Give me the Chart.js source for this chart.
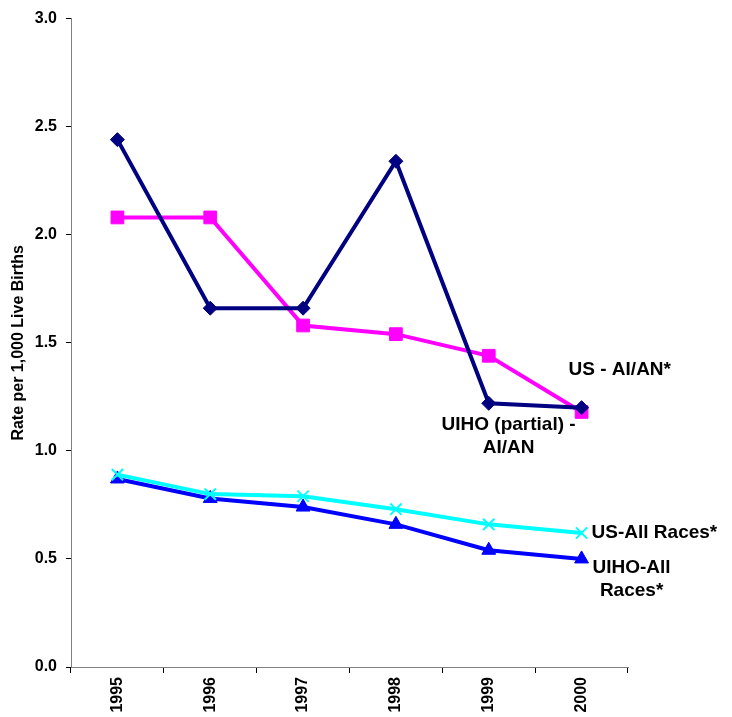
<!DOCTYPE html>
<html lang="en">
<head>
    <meta charset="UTF-8">
    <title>Rate per 1,000 Live Births</title>
    <style>
        body { margin: 0; background: #fff; }
        #wrap { width: 732px; height: 717px; }
    </style>
    <script src="https://cdn.jsdelivr.net/npm/chart.js@4/dist/chart.umd.min.js"></script>
</head>
<body>
    <div id="wrap"><canvas id="chart" width="732" height="717"></canvas></div>
    <script>
        // data
        const years = ['1995', '1996', '1997', '1998', '1999', '2000'];
        const uihoPartialAian = [2.44, 1.66, 1.66, 2.34, 1.22, 1.20];
        const usAian = [2.08, 2.08, 1.58, 1.54, 1.44, 1.18];
        const usAllRaces = [0.89, 0.80, 0.79, 0.73, 0.66, 0.62];
        const uihoAllRaces = [0.87, 0.78, 0.74, 0.66, 0.54, 0.50];
        const yTicks = [0, 0.5, 1.0, 1.5, 2.0, 2.5, 3.0];

        const FONT = 'Arial, "Liberation Sans", sans-serif';

        // end labels drawn next to the last point of each series
        const endLabels = [
            { ds: 1, lines: ['US - AI/AN*'], dx: -13, dy: -42, align: 'left' },
            { ds: 0, lines: ['UIHO (partial) -', 'AI/AN'], dx: -73, dy: 17, align: 'center' },
            { ds: 2, lines: ['US-All Races*'], dx: 10, dy: 0, align: 'left' },
            { ds: 3, lines: ['UIHO-All', 'Races*'], dx: 50, dy: 9, align: 'center' }
        ];

        const labelPlugin = {
            id: 'endLabels',
            afterDatasetsDraw(chart) {
                const ctx = chart.ctx;
                const last = years.length - 1;
                ctx.save();
                ctx.font = 'bold 19px ' + FONT;
                ctx.fillStyle = '#000';
                ctx.textBaseline = 'middle';
                endLabels.forEach(l => {
                    const pt = chart.getDatasetMeta(l.ds).data[last];
                    ctx.textAlign = l.align;
                    l.lines.forEach((t, i) => {
                        ctx.fillText(t, pt.x + l.dx, pt.y + l.dy + i * 23);
                    });
                });
                ctx.restore();
            }
        };

        function series(label, data, color, style, radius) {
            return {
                label: label,
                data: data,
                borderColor: color,
                backgroundColor: color,
                borderWidth: 4,
                pointStyle: style,
                pointRadius: radius,
                pointBorderWidth: style === 'crossRot' ? 2 : 1,
                tension: 0
            };
        }

        new Chart(document.getElementById('chart'), {
            type: 'line',
            data: {
                labels: years,
                datasets: [
                    series('UIHO (partial) - AI/AN', uihoPartialAian, '#000080', 'rectRot', 7),
                    series('US - AI/AN*', usAian, '#FF00FF', 'rect', 9),
                    series('US-All Races*', usAllRaces, '#00FFFF', 'crossRot', 8),
                    series('UIHO-All Races*', uihoAllRaces, '#0000FF', 'triangle', 8)
                ]
            },
            options: {
                responsive: false,
                animation: false,
                layout: { padding: { top: 17, right: 104, left: 0, bottom: 0 } },
                plugins: { legend: { display: false }, tooltip: { enabled: false } },
                scales: {
                    x: {
                        offset: true,
                        grid: { offset: true, drawOnChartArea: false, tickLength: 6, color: '#000', lineWidth: 1 },
                        border: { color: '#808080', width: 1 },
                        ticks: {
                            color: '#000',
                            font: { family: FONT, size: 16, weight: 'bold' },
                            minRotation: 90,
                            maxRotation: 90,
                            padding: 4
                        },
                        afterFit(scale) { scale.height = 50; }
                    },
                    y: {
                        min: 0,
                        max: 3,
                        afterBuildTicks(scale) { scale.ticks = yTicks.map(v => ({ value: v })); },
                        grid: { drawOnChartArea: false, tickLength: 5, color: '#000', lineWidth: 1 },
                        border: { color: '#808080', width: 1 },
                        ticks: {
                            color: '#000',
                            font: { family: FONT, size: 16, weight: 'bold' },
                            padding: 9,
                            callback: v => Number(v).toFixed(1)
                        },
                        title: {
                            display: true,
                            text: 'Rate per 1,000 Live Births',
                            color: '#000',
                            font: { family: FONT, size: 16, weight: 'bold' },
                            padding: { top: 9, bottom: 0 }
                        },
                        afterFit(scale) { scale.width = 71; }
                    }
                }
            },
            plugins: [labelPlugin]
        });
    </script>
</body>
</html>
